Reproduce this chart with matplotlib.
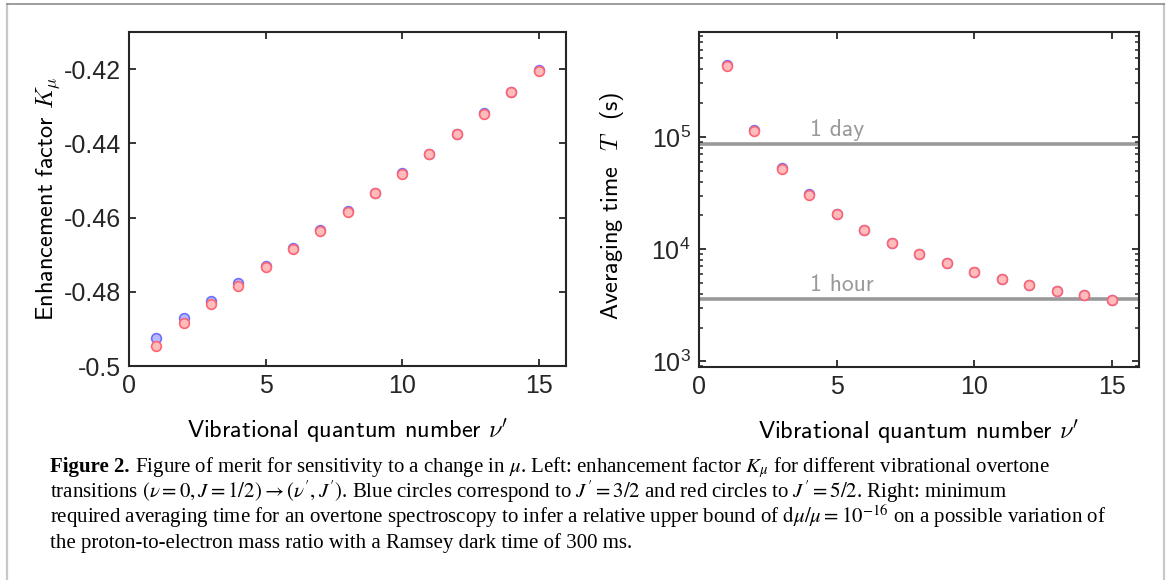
import matplotlib
matplotlib.use('Agg')
import matplotlib.pyplot as plt
import numpy as np
from matplotlib.ticker import FixedLocator, LogLocator, NullFormatter, FuncFormatter
from matplotlib.lines import Line2D

# vibrational quantum number of the upper state
v = np.arange(1, 16)

# enhancement factor K_mu
k_blue = [-0.4925, -0.4872, -0.4825, -0.4776, -0.4731, -0.4681, -0.4633, -0.4583,
          -0.4533, -0.4481, -0.4428, -0.4374, -0.4319, -0.4262, -0.4203]   # J' = 3/2
k_red = [-0.4947, -0.4883, -0.4833, -0.4784, -0.4734, -0.4685, -0.4636, -0.4585,
         -0.4535, -0.4483, -0.4430, -0.4376, -0.4320, -0.4263, -0.4205]    # J' = 5/2

# averaging time T (s)
t_blue = [4.40e5, 1.14e5, 5.25e4, 3.07e4, 2.05e4, 1.47e4, 1.13e4, 9.0e3,
          7.45e3, 6.28e3, 5.44e3, 4.78e3, 4.26e3, 3.86e3, 3.49e3]
t_red = [4.25e5, 1.12e5, 5.22e4, 3.06e4, 2.05e4, 1.47e4, 1.13e4, 9.0e3,
         7.45e3, 6.28e3, 5.44e3, 4.78e3, 4.26e3, 3.86e3, 3.49e3]

# reference times
one_day = 86400
one_hour = 3600

k_ticks = [-0.5, -0.48, -0.46, -0.44, -0.42]
k_labels = ['-0.5', '-0.48', '-0.46', '-0.44', '-0.42']
x_ticks = [0, 5, 10, 15]

plt.rcParams['font.family'] = ['Liberation Sans', 'DejaVu Sans']
plt.rcParams['mathtext.fontset'] = 'custom'
plt.rcParams['mathtext.rm'] = 'Liberation Sans'
plt.rcParams['mathtext.it'] = 'Liberation Sans:italic'
plt.rcParams['axes.unicode_minus'] = False

W, H = 1167, 580
fig = plt.figure(figsize=(W / 100, H / 100), dpi=100)

# page border (open at the bottom)
fig.add_artist(Line2D([7 / W, 7 / W], [0, 1 - 4 / H], color='#c8c8c8', lw=1.6))
fig.add_artist(Line2D([1164 / W, 1164 / W], [0, 1 - 4 / H], color='#c8c8c8', lw=1.6))
fig.add_artist(Line2D([7 / W, 1164 / W], [1 - 4 / H, 1 - 4 / H], color='#8c8c8c', lw=1.2))

ax1 = fig.add_axes([129 / W, 1 - 366 / H, 437 / W, 334 / H])
ax2 = fig.add_axes([699 / W, 1 - 367 / H, 440 / W, 335 / H])

blue_kw = dict(ls='none', marker='o', ms=7, mfc='#b9b9ff', mec='#6e6eff', mew=1.2)
red_kw = dict(ls='none', marker='o', ms=7, mfc='#ffbcbc', mec='#ff6470', mew=1.2)
label_kw = dict(family='cmss10', fontsize=17.5, math_fontfamily='cm')

for ax in (ax1, ax2):
    for s in ax.spines.values():
        s.set_linewidth(1.5)
        s.set_color('#262626')
    ax.tick_params(which='major', direction='in', top=True, right=True,
                   length=5, width=1.3, labelsize=18, colors='#262626', pad=6)
    ax.set_xlim(0, 16)
    ax.xaxis.set_major_locator(FixedLocator(x_ticks))
    ax.set_xlabel(r"Vibrational quantum number $\nu'$", **label_kw)
    ax.xaxis.set_label_coords(0.5, -0.15)

# left: enhancement factor
ax1.plot(v, k_blue, **blue_kw)
ax1.plot(v, k_red, **red_kw)
ax1.set_ylim(-0.5, -0.41)
ax1.yaxis.set_major_locator(FixedLocator(k_ticks))
ax1.set_yticklabels(k_labels)
ax1.set_ylabel(r'Enhancement factor $K_\mu$', **label_kw)
ax1.yaxis.set_label_coords(-0.153, 0.5)

# right: averaging time
ax2.set_yscale('log')
ax2.axhline(one_day, color='#999999', lw=2.6, zorder=1)
ax2.axhline(one_hour, color='#999999', lw=2.6, zorder=1)
ax2.text(4.05, one_day * 1.07, '1 day', color='#999999', family='cmss10',
         fontsize=17, va='bottom')
ax2.text(4.05, one_hour * 1.07, '1 hour', color='#999999', family='cmss10',
         fontsize=17, va='bottom')
ax2.plot(v, t_blue, **blue_kw)
ax2.plot(v, t_red, **red_kw)
ax2.set_ylim(890, 8.6e5)
ax2.yaxis.set_major_locator(FixedLocator([1e3, 1e4, 1e5]))
ax2.yaxis.set_major_formatter(FuncFormatter(lambda y, p: r'$10^{%d}$' % round(np.log10(y))))
ax2.yaxis.set_minor_locator(LogLocator(base=10, subs=np.arange(2, 10), numticks=20))
ax2.yaxis.set_minor_formatter(NullFormatter())
ax2.tick_params(which='minor', axis='y', direction='in', left=True, right=True,
                length=3, width=1.1, colors='#262626')
ax2.set_ylabel(r'Averaging time  $T$  (s)', **label_kw)
ax2.yaxis.set_label_coords(-0.166, 0.48)

# caption
cap_font = dict(family='Liberation Serif', fontsize=15.0, math_fontfamily='stix',
                va='baseline', ha='left')
x0 = 50 / W
base = [472, 498, 523, 548]
lines = [
    r' Figure of merit for sensitivity to a change in $\mu$. Left: enhancement factor $K_{\mu}$ for different vibrational overtone',
    r"transitions $(\nu = 0, J = 1/2) \rightarrow (\nu', J')$. Blue circles correspond to $J' = 3/2$ and red circles to $J' = 5/2$. Right: minimum",
    r'required averaging time for an overtone spectroscopy to infer a relative upper bound of $\mathrm{d}\mu/\mu = 10^{-16}$ on a possible variation of',
    r'the proton-to-electron mass ratio with a Ramsey dark time of 300 ms.',
]
head = fig.text(x0, 1 - base[0] / H, 'Figure 2.', weight='bold', **cap_font)
r = fig.canvas.get_renderer()
hw = head.get_window_extent(r).width / W
fig.text(x0 + hw, 1 - base[0] / H, lines[0], **cap_font)
for ln, b in zip(lines[1:], base[1:]):
    fig.text(x0, 1 - b / H, ln, **cap_font)

fig.savefig('out.png', dpi=100)
